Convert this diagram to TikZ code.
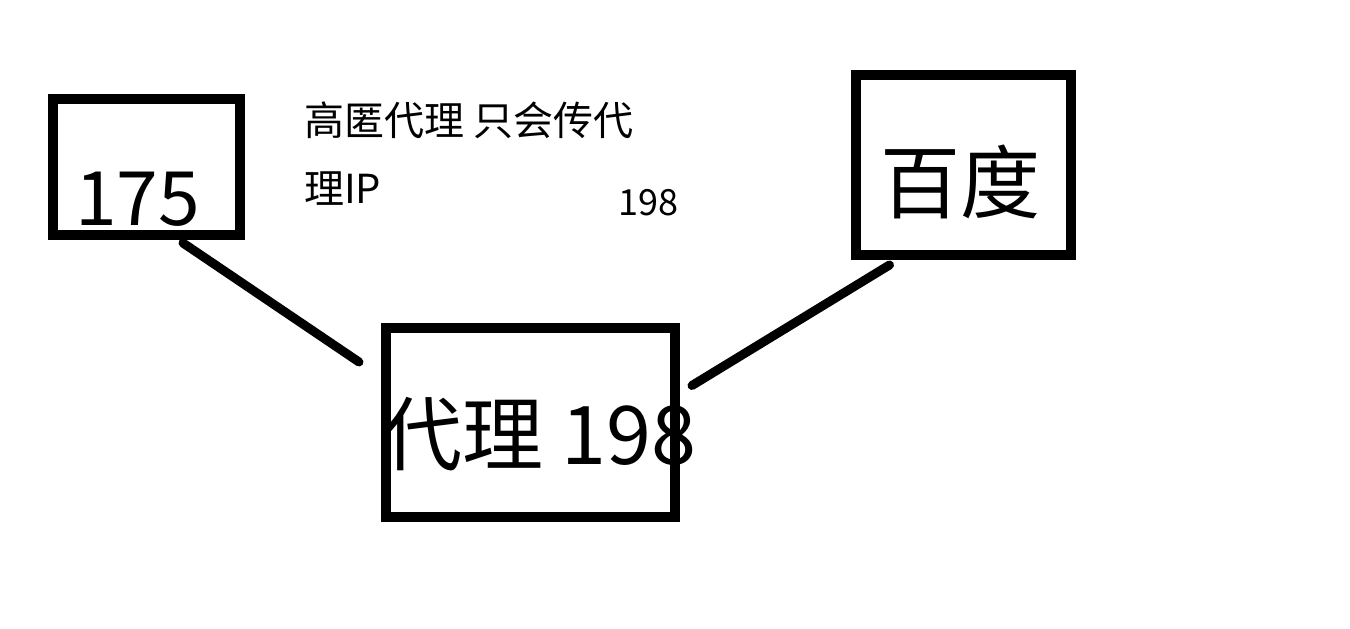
\documentclass[tikz,border=0pt]{standalone}
\usepackage{fontspec}
\setmainfont{Noto Sans CJK SC}
\usepackage{tikz}

\tikzset{
  box/.style={draw, line width=10pt, inner sep=0pt},
  link/.style={line width=9pt, line cap=round},
  txt/.style={inner sep=0pt, anchor=base west}
}

\begin{document}
\begin{tikzpicture}[x=1pt, y=-1pt]
\useasboundingbox (0,0) rectangle (1350,629);
% boxes
\node[box, minimum width=187pt, minimum height=136pt] (client) at (146.5,167) {};
\node[box, minimum width=289pt, minimum height=189pt] (proxy) at (530.5,422.5) {};
\node[box, minimum width=215pt, minimum height=180pt] (server) at (963.5,165) {};
% texts
\node[txt, font=\fontsize{75}{75}\selectfont] (clientip) at (75,225) {175};
\node[txt, font=\fontsize{81}{81}\selectfont] (proxyip) at (381,464) {代理 198};
\node[txt, font=\fontsize{80}{80}\selectfont] (servername) at (880,212) {百度};
\node[txt, font=\fontsize{40}{40}\selectfont] (note1) at (304,135) {高匿代理 只会传代};
\node[txt, font=\fontsize{40}{40}\selectfont] (note2) at (304,203) {理IP};
\node[txt, font=\fontsize{36}{36}\selectfont] (seen) at (618,215) {198};
% lines
\draw[link] ([xshift=36.5pt, yshift=-3pt]client.south) -- ([xshift=-22pt, yshift=60.5pt]proxy.west);
\draw[link] ([xshift=12pt, yshift=37pt]proxy.east) -- ([xshift=-74pt, yshift=-5pt]server.south);
\end{tikzpicture}
\end{document}
